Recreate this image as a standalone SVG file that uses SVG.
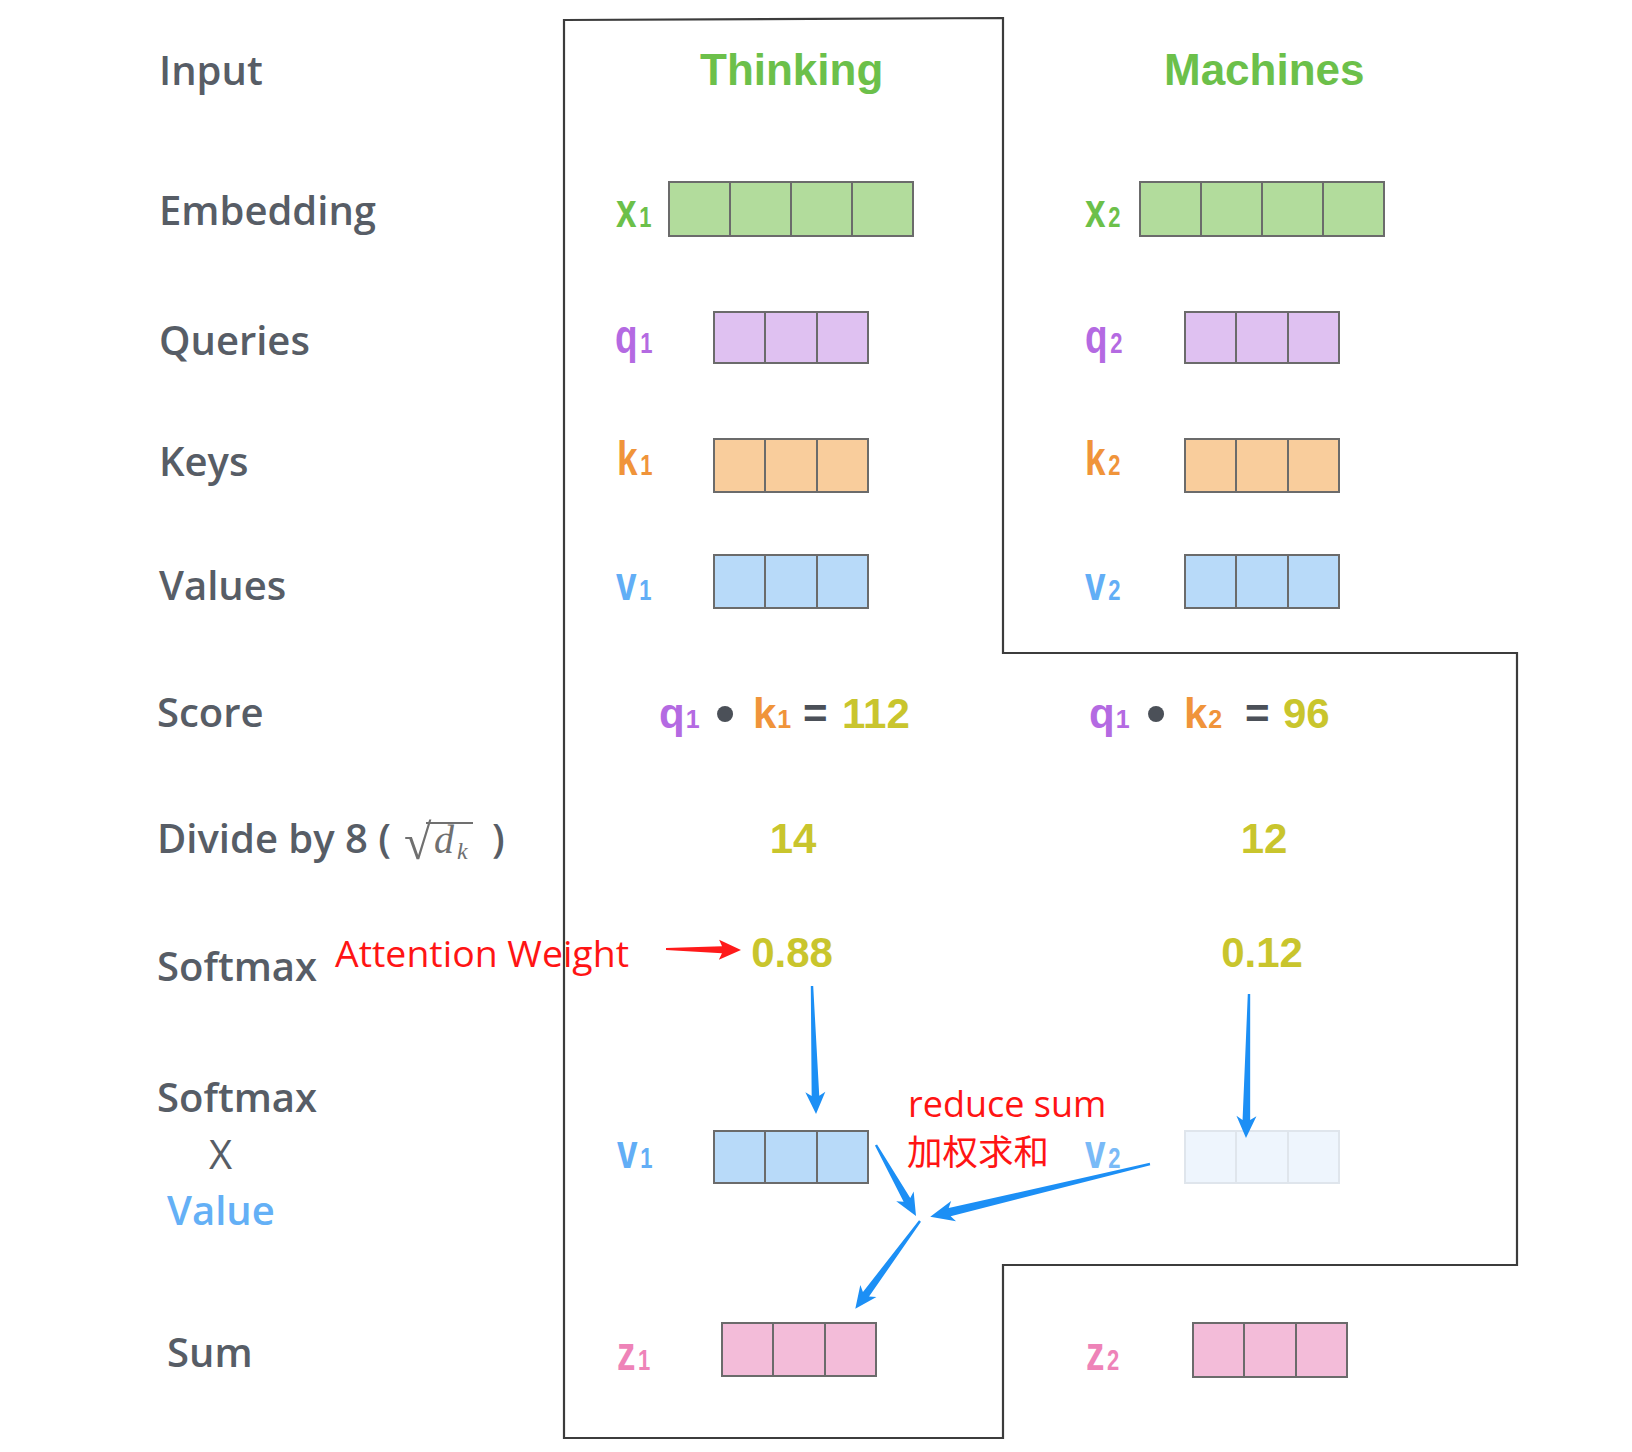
<svg xmlns="http://www.w3.org/2000/svg" width="1632" height="1452" viewBox="0 0 1632 1452">
<style>
.lab{font-family:"Open Sans","Noto Sans","Liberation Sans",sans-serif;font-weight:600;font-size:40px;fill:#575d66}
.sym{font-family:"Liberation Sans",Arial,sans-serif;font-weight:700;font-size:42px}
.sub{font-size:25px}
.num{font-family:"Liberation Sans",Arial,sans-serif;font-weight:700;font-size:42px;fill:#c9c52d}
.word{font-family:"Liberation Sans",Arial,sans-serif;font-weight:700;font-size:44px;fill:#6cc04a}
.cell{stroke:#6b6b6b;stroke-width:2}
.red{font-family:"Open Sans","Noto Sans CJK SC",sans-serif;font-size:37px;fill:#ff1414}
.green{fill:#6cc04a}.purple{fill:#b46ae2}.orange{fill:#f0943a}.blue{fill:#62aef6}.pink{fill:#ee83b8}.dark{fill:#4b5058}
.gbox{fill:#b2dc9c}.pbox{fill:#dfc1f1}.obox{fill:#f9cd9c}.bbox{fill:#b8daf9}.zbox{fill:#f3bcd9}
.barrow{fill:#1c8ff5}
.frame{fill:none;stroke:#3c3c3c;stroke-width:2.2}
.math{font-family:"Liberation Serif",serif;fill:#707070}
</style>

<g id="frame">
<polygon class="frame" points="564,20 1003,18 1003,653 1517,653 1517,1265 1003,1265 1003,1438 564,1438"/>
</g>

<g id="row-labels">
<text class="lab" x="159" y="85">Input</text>
<text class="lab" x="159" y="225">Embedding</text>
<text class="lab" x="159" y="355">Queries</text>
<text class="lab" x="159" y="476">Keys</text>
<text class="lab" x="159" y="600">Values</text>
<text class="lab" x="157" y="727">Score</text>
<g id="divide-label">
<text class="lab" x="157" y="853">Divide by 8 (</text>
<text class="math" x="404" y="859" style="font-size:50px">√</text>
<line x1="426" y1="823" x2="473" y2="823" stroke="#707070" stroke-width="1.8"/>
<text class="math" x="434" y="853" style="font-style:italic;font-size:40px">d</text>
<text class="math" x="457" y="859" style="font-style:italic;font-size:24px">k</text>
<text class="lab" x="492" y="853">)</text>
</g>
<text class="lab" x="157" y="981">Softmax</text>
<text class="lab" x="157" y="1112">Softmax</text>
<text class="lab" x="209" y="1169" style="font-weight:400">X</text>
<text class="lab" x="167" y="1225" style="fill:#64b0f6">Value</text>
<text class="lab" x="167" y="1367">Sum</text>
</g>

<g id="input-thinking"><text class="word" x="700" y="85">Thinking</text></g>
<g id="input-machines"><text class="word" x="1164" y="85">Machines</text></g>

<g id="x1">
<text class="sym green" transform="translate(616,227) scale(0.88,1.15)">x<tspan class="sub" dx="3">1</tspan></text>
<rect class="cell gbox" x="669" y="182" width="244" height="54"/>
<path class="cell" d="M730,182V236M791,182V236M852,182V236"/>
</g>
<g id="x2">
<text class="sym green" transform="translate(1085,227) scale(0.88,1.15)">x<tspan class="sub" dx="3">2</tspan></text>
<rect class="cell gbox" x="1140" y="182" width="244" height="54"/>
<path class="cell" d="M1201,182V236M1262,182V236M1323,182V236"/>
</g>

<g id="q1">
<text class="sym purple" transform="translate(615,353) scale(0.88,1.15)">q<tspan class="sub" dx="3">1</tspan></text>
<rect class="cell pbox" x="714" y="312" width="154" height="51"/>
<path class="cell" d="M765,312V363M817,312V363"/>
</g>
<g id="q2">
<text class="sym purple" transform="translate(1085,353) scale(0.88,1.15)">q<tspan class="sub" dx="3">2</tspan></text>
<rect class="cell pbox" x="1185" y="312" width="154" height="51"/>
<path class="cell" d="M1236,312V363M1288,312V363"/>
</g>

<g id="k1">
<text class="sym orange" transform="translate(617,475) scale(0.88,1.15)">k<tspan class="sub" dx="3">1</tspan></text>
<rect class="cell obox" x="714" y="439" width="154" height="53"/>
<path class="cell" d="M765,439V492M817,439V492"/>
</g>
<g id="k2">
<text class="sym orange" transform="translate(1085,475) scale(0.88,1.15)">k<tspan class="sub" dx="3">2</tspan></text>
<rect class="cell obox" x="1185" y="439" width="154" height="53"/>
<path class="cell" d="M1236,439V492M1288,439V492"/>
</g>

<g id="v1">
<text class="sym blue" transform="translate(616,600) scale(0.88,1.15)">v<tspan class="sub" dx="3">1</tspan></text>
<rect class="cell bbox" x="714" y="555" width="154" height="53"/>
<path class="cell" d="M765,555V608M817,555V608"/>
</g>
<g id="v2">
<text class="sym blue" transform="translate(1085,600) scale(0.88,1.15)">v<tspan class="sub" dx="3">2</tspan></text>
<rect class="cell bbox" x="1185" y="555" width="154" height="53"/>
<path class="cell" d="M1236,555V608M1288,555V608"/>
</g>

<g id="score1">
<text class="sym purple" x="659" y="728">q<tspan class="sub" dx="1">1</tspan></text>
<text class="sym dark" x="725" y="732" text-anchor="middle" style="font-size:56px">•</text>
<text class="sym orange" x="753" y="728">k<tspan class="sub" dx="1">1</tspan></text>
<text class="sym dark" x="803" y="728">=</text>
<text class="num" x="842" y="728">112</text>
</g>
<g id="score2">
<text class="sym purple" x="1089" y="728">q<tspan class="sub" dx="1">1</tspan></text>
<text class="sym dark" x="1156" y="732" text-anchor="middle" style="font-size:56px">•</text>
<text class="sym orange" x="1184" y="728">k<tspan class="sub" dx="1">2</tspan></text>
<text class="sym dark" x="1245" y="728">=</text>
<text class="num" x="1283" y="728">96</text>
</g>

<g id="div1"><text class="num" x="793" y="853" text-anchor="middle">14</text></g>
<g id="div2"><text class="num" x="1264" y="853" text-anchor="middle">12</text></g>
<g id="soft1"><text class="num" x="792" y="967" text-anchor="middle">0.88</text></g>
<g id="soft2"><text class="num" x="1262" y="967" text-anchor="middle">0.12</text></g>

<g id="attention-weight"><text class="red" x="335" y="967" textLength="294" lengthAdjust="spacingAndGlyphs">Attention Weight</text></g>
<g id="reduce-sum">
<text class="red" x="908" y="1117" style="font-size:36px">reduce sum</text>
<text class="red" x="907" y="1165" style="font-family:'Noto Sans CJK SC',sans-serif;font-size:35.5px">加权求和</text>
</g>

<g id="v1w">
<text class="sym blue" transform="translate(617,1168) scale(0.88,1.15)">v<tspan class="sub" dx="3">1</tspan></text>
<rect class="cell bbox" x="714" y="1131" width="154" height="52"/>
<path class="cell" d="M765,1131V1183M817,1131V1183"/>
</g>
<g id="v2w">
<text class="sym blue" transform="translate(1085,1168) scale(0.88,1.15)" style="opacity:0.85">v<tspan class="sub" dx="3">2</tspan></text>
<rect x="1185" y="1131" width="154" height="52" fill="#eef5fd" stroke="#dfe5ec" stroke-width="2"/>
<path d="M1236,1131V1183M1288,1131V1183" stroke="#dfe5ec" stroke-width="2"/>
</g>

<g id="z1">
<text class="sym pink" transform="translate(617,1370) scale(0.88,1.15)">z<tspan class="sub" dx="3">1</tspan></text>
<rect class="cell zbox" x="722" y="1323" width="154" height="53"/>
<path class="cell" d="M773,1323V1376M825,1323V1376"/>
</g>
<g id="z2">
<text class="sym pink" transform="translate(1086,1370) scale(0.88,1.15)">z<tspan class="sub" dx="3">2</tspan></text>
<rect class="cell zbox" x="1193" y="1323" width="154" height="54"/>
<path class="cell" d="M1244,1323V1377M1296,1323V1377"/>
</g>

<g id="connectors">
<path fill="#ff1a1a" transform="translate(666,949) rotate(0.8)" d="M0,-1 L56,-3.5 L53,-10 L75,0 L53,10 L56,3.5 L0,1 Z"/>
<path class="barrow" transform="translate(812,986) rotate(88.2)" d="M0,-1.2 L110,-3.8 L106,-10 L128,0 L106,10 L110,3.8 L0,1.2 Z"/>
<path class="barrow" transform="translate(1249,994) rotate(91.2)" d="M0,-1.2 L126,-3.8 L122,-10 L144,0 L122,10 L126,3.8 L0,1.2 Z"/>
<path class="barrow" transform="translate(876,1145) rotate(60.6)" d="M0,-1.2 L63,-3.8 L59,-10 L81.5,0 L59,10 L63,3.8 L0,1.2 Z"/>
<path class="barrow" transform="translate(1150,1164) rotate(166.5)" d="M0,-1.2 L206,-4.2 L202,-10.5 L226,0 L202,10.5 L206,4.2 L0,1.2 Z"/>
<path class="barrow" transform="translate(920,1221) rotate(126.4)" d="M0,-1.2 L91,-3.8 L87,-10 L109,0 L87,10 L91,3.8 L0,1.2 Z"/>
</g>
</svg>
